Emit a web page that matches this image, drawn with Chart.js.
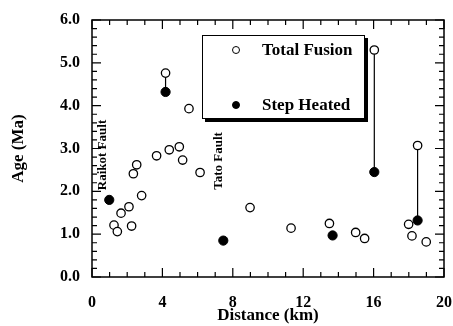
<!DOCTYPE html>
<html><head><meta charset="utf-8">
<script src="https://cdn.jsdelivr.net/npm/chart.js@4/dist/chart.umd.min.js"></script>
<style>
html,body{margin:0;padding:0;background:#fff}
#wrap{position:relative;width:453px;height:326px}
#legend{position:absolute;box-sizing:border-box;background:#fff;border:1.5px solid #000;box-shadow:3px 3px 0 #000;font:bold 17px "Liberation Serif","DejaVu Serif",serif;color:#000}
.row{position:absolute;left:0;white-space:nowrap;height:20px;line-height:20px}
.mk{position:absolute;box-sizing:border-box;width:8px;height:8px;border-radius:50%;border:1.3px solid #000;top:6px}
.txt{position:absolute;top:0}
.fault{position:absolute;white-space:nowrap;font:bold 13px "Liberation Serif","DejaVu Serif",serif;color:#000;transform:translate(-50%,-50%) rotate(-90deg);line-height:14px}
</style>
</head><body><div id="wrap"><canvas id="c" width="453" height="326"></canvas>
<div id="legend"></div><div id="f0" class="fault"></div><div id="f1" class="fault"></div></div>
<script>
// ---- data ----
const seriesLabels = ['Total Fusion', 'Step Heated'];
const totalFusionDistance = [1.25, 1.44, 1.65, 2.10, 2.25, 2.35, 2.54, 2.82, 3.67, 4.18, 4.39, 4.96, 5.15, 5.51, 6.14, 8.98, 11.31, 13.49, 14.98, 15.49, 16.04, 17.99, 18.18, 18.50, 18.99];
const totalFusionAge      = [1.21, 1.06, 1.49, 1.64, 1.19, 2.41, 2.62, 1.90, 2.83, 4.76, 2.97, 3.04, 2.73, 3.93, 2.44, 1.62, 1.14, 1.25, 1.04, 0.90, 5.30, 1.23, 0.96, 3.07, 0.82];
const stepHeatedDistance  = [0.98, 4.18, 7.46, 13.67, 16.04, 18.50];
const stepHeatedAge       = [1.80, 4.32, 0.85, 0.97, 2.45, 1.32];
const linkedDistances     = [4.18, 16.04, 18.50];   // samples measured both ways, joined by a line
const xTickValues = [0, 4, 8, 12, 16, 20];
const yTickValues = [0, 1, 2, 3, 4, 5, 6];
const xTitle = 'Distance (km)';
const yTitle = 'Age (Ma)';
const faultLabels = ['Raikot Fault', 'Tato Fault'];

// ---- build datasets ----
const tfPoints = totalFusionDistance.map((x, i) => ({x, y: totalFusionAge[i]}));
const shPoints = stepHeatedDistance.map((x, i) => ({x, y: stepHeatedAge[i]}));
const linkPoints = [];
linkedDistances.forEach(d => {
  const top = totalFusionAge[totalFusionDistance.indexOf(d)];
  const bot = stepHeatedAge[stepHeatedDistance.indexOf(d)];
  linkPoints.push({x: d, y: top}, {x: d, y: bot}, {x: d, y: null});
});

const SERIF = '"Liberation Serif", "DejaVu Serif", serif';

// legend + fault labels as HTML text, placed from the chart area
function placeOverlays(chart) {
  const ca = chart.chartArea;
  const lg = document.getElementById('legend');
  const ds = chart.data.datasets;
  const bx = ca.left + 110, by = ca.top + 15;
  lg.style.left = bx + 'px'; lg.style.top = by + 'px';
  lg.style.width = '163px'; lg.style.height = '84px';
  if (!lg.childElementCount) {
    [0, 1].forEach(i => {
      const row = document.createElement('div');
      row.className = 'row';
      row.style.top = (4 + i * 54.5) + 'px';
      row.style.width = '160px';
      const mk = document.createElement('span');
      mk.className = 'mk';
      mk.style.left = '29px';
      mk.style.background = ds[i].backgroundColor;
      const tx = document.createElement('span');
      tx.className = 'txt';
      tx.style.left = '59px';
      tx.textContent = ds[i].label;
      row.appendChild(mk); row.appendChild(tx);
      lg.appendChild(row);
    });
  }
  const anchors = [[ca.left + 10, ca.top + 135], [ca.left + 126, ca.top + 141]];
  faultLabels.forEach((t, i) => {
    const el = document.getElementById('f' + i);
    el.textContent = t;
    el.style.left = anchors[i][0] + 'px';
    el.style.top = anchors[i][1] + 'px';
  });
}

// plot frame with inward ticks on all four sides
const framePlugin = {
  id: 'plotFrame',
  afterDraw(chart) {
    const ctx = chart.ctx;
    const a = chart.chartArea;
    const xs = chart.scales.x, ys = chart.scales.y;
    ctx.save();
    ctx.strokeStyle = '#000000';
    ctx.lineWidth = 1.5;
    ctx.beginPath();
    ctx.rect(a.left, a.top, a.right - a.left, a.bottom - a.top);
    ctx.stroke();
    ctx.restore();
    ctx.save();
    ctx.strokeStyle = '#000000';
    ctx.lineWidth = 1.2;
    ctx.beginPath();
    for (let i = 0; i <= 20; i++) {
      const px = xs.getPixelForValue(i);
      const len = (i % 4 === 0) ? 9 : 5;
      ctx.moveTo(px, a.bottom); ctx.lineTo(px, a.bottom - len);
      ctx.moveTo(px, a.top); ctx.lineTo(px, a.top + len);
    }
    for (let k = 0; k <= 30; k++) {
      const py = ys.getPixelForValue(k / 5);
      const len = (k % 5 === 0) ? 9 : 5;
      ctx.moveTo(a.left, py); ctx.lineTo(a.left + len, py);
      ctx.moveTo(a.right, py); ctx.lineTo(a.right - len, py);
    }
    ctx.stroke();
    ctx.restore();
    placeOverlays(chart);
  }
};

new Chart(document.getElementById('c'), {
  type: 'scatter',
  data: {
    datasets: [
      {label: seriesLabels[0], data: tfPoints, pointStyle: 'circle', pointRadius: 4.2,
       backgroundColor: '#fff', borderColor: '#000', borderWidth: 1.3, order: 1},
      {label: seriesLabels[1], data: shPoints, pointStyle: 'circle', pointRadius: 4.6,
       backgroundColor: '#000', borderColor: '#000', borderWidth: 1, order: 2},
      {label: 'link', data: linkPoints, type: 'line', showLine: true, spanGaps: false,
       pointRadius: 0, borderColor: '#000', borderWidth: 1.2, fill: false, order: 10}
    ]
  },
  options: {
    responsive: false, animation: false, devicePixelRatio: 1,
    layout: {padding: {left: 0, top: 20, right: 9, bottom: 0}},
    plugins: {legend: {display: false}, tooltip: {enabled: false}},
    scales: {
      x: {
        type: 'linear', min: 0, max: 20,
        afterBuildTicks: s => { s.ticks = xTickValues.map(v => ({value: v})); },
        afterFit: s => { s.height = 49; s.paddingLeft = 0; s.paddingRight = 0; },
        grid: {display: false}, border: {display: false},
        ticks: {color: '#000', font: {family: SERIF, size: 16, weight: 'bold'}, padding: 8,
                maxRotation: 0, callback: v => String(v)},
        title: {display: true, text: xTitle, color: '#000',
                font: {family: SERIF, size: 17, weight: 'bold'}, padding: {top: 0, bottom: 0}}
      },
      y: {
        type: 'linear', min: 0, max: 6,
        afterBuildTicks: s => { s.ticks = yTickValues.map(v => ({value: v})); },
        afterFit: s => { s.width = 92; s.paddingTop = 0; s.paddingBottom = 0; },
        grid: {display: false}, border: {display: false},
        ticks: {color: '#000', font: {family: SERIF, size: 16, weight: 'bold'}, padding: 4,
                callback: v => Number(v).toFixed(1)},
        title: {display: true, text: yTitle, color: '#000',
                font: {family: SERIF, size: 17, weight: 'bold'}, padding: {top: 8, bottom: 0}}
      }
    }
  },
  plugins: [framePlugin]
});
</script></body></html>
